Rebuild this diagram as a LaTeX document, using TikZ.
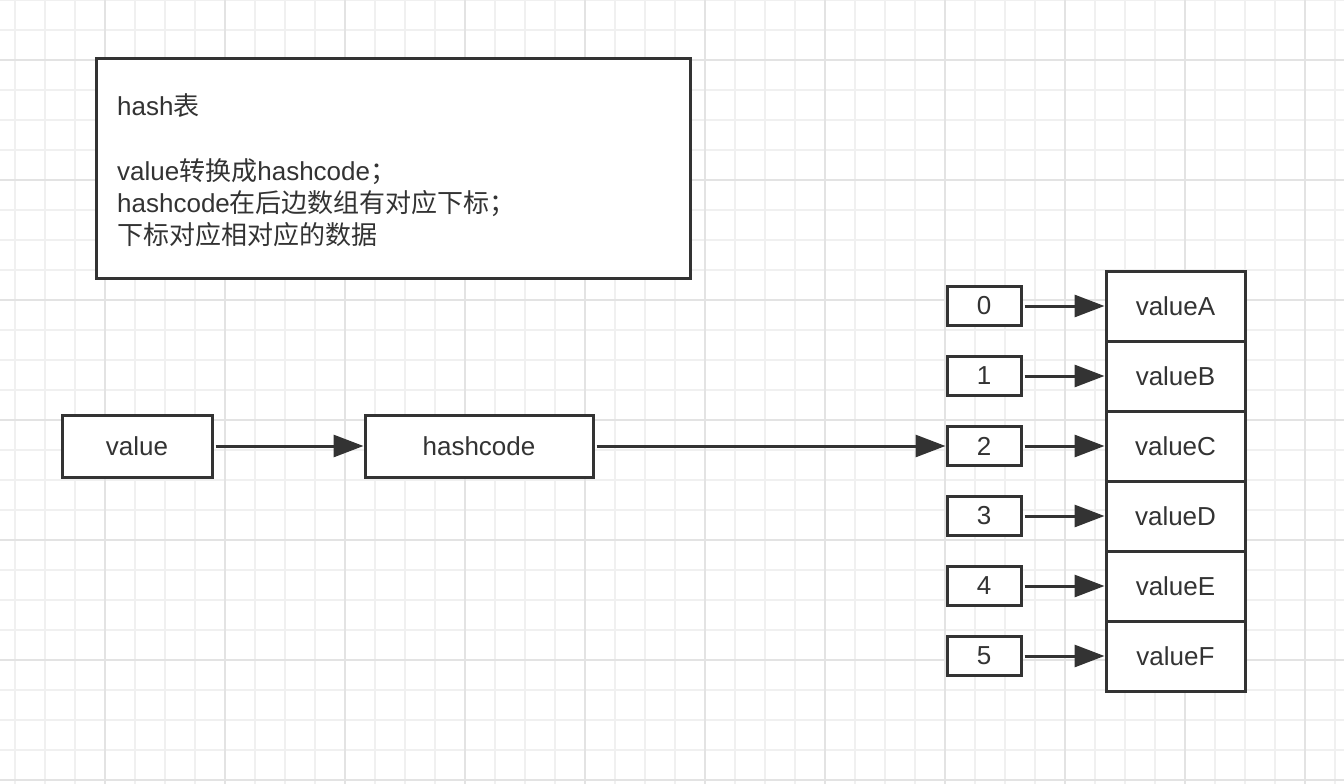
\documentclass[tikz,border=0pt]{standalone}
\usepackage{fontspec}
\setmainfont{Liberation Sans}
\newfontfamily\cjk{Noto Sans CJK SC}
\usetikzlibrary{arrows.meta}
\definecolor{ink}{HTML}{333333}
\definecolor{gridminor}{HTML}{F0F0F0}
\definecolor{gridmajor}{HTML}{E3E3E3}
\begin{document}
\begin{tikzpicture}[x=1pt,y=-1pt,
  box/.style={draw=ink, line width=3pt, fill=white, rectangle, inner sep=0pt, text=ink, font=\fontsize{26}{31}\selectfont},
  idx/.style={box, minimum width=74pt, minimum height=39pt},
  cell/.style={box, minimum width=139pt, minimum height=70pt},
  link/.style={draw=ink, line width=3pt, shorten <=2pt, -{Triangle[length=30pt,width=22pt]}},
  txt/.style={anchor=base west, inner sep=0pt, text=ink, font=\fontsize{26}{31}\selectfont}]
\fill[white] (0,0) rectangle (1344,784);
\useasboundingbox (0,0) rectangle (1344,784);
\foreach \x in {15,45,...,1335} \draw[gridminor, line width=1.5pt] (\x,0) -- (\x,784);
\foreach \y in {0,30,...,780} \draw[gridminor, line width=1.5pt] (0,\y) -- (1344,\y);
\foreach \x in {105,225,...,1305} \draw[gridmajor, line width=1.5pt] (\x,0) -- (\x,784);
\foreach \y in {60,180,...,780} \draw[gridmajor, line width=1.5pt] (0,\y) -- (1344,\y);

% note box
\node[box, minimum width=594pt, minimum height=219pt] (note) at (393,168.5) {};
\node[txt] (t1) at (117,115) {hash{\cjk 表}};
\node[txt] (t2) at (117,180) {value{\cjk 转换成}hashcode{\cjk ；}};
\node[txt] (t3) at (117,212) {hashcode{\cjk 在后边数组有对应下标；}};
\node[txt] (t4) at (117,244) {{\cjk 下标对应相对应的数据}};

% main flow
\node[box, minimum width=150pt, minimum height=62pt] (value) at (137,446) {value};
\node[box, minimum width=228pt, minimum height=62pt] (hash) at (479,446) {hashcode};

% index boxes and values
\foreach \i/\v [count=\k from 0] in {0/A,1/B,2/C,3/D,4/E,5/F} {
  \node[idx] (i\i) at (984,306+70*\k) {\i};
  \node[cell] (v\v) at (1175.5,306+70*\k) {value\v};
  \draw[link] (i\i.east) -- (v\v.west);
}

\draw[link] (value.east) -- (hash.west);
\draw[link] (hash.east) -- (i2.west);
\end{tikzpicture}
\end{document}
